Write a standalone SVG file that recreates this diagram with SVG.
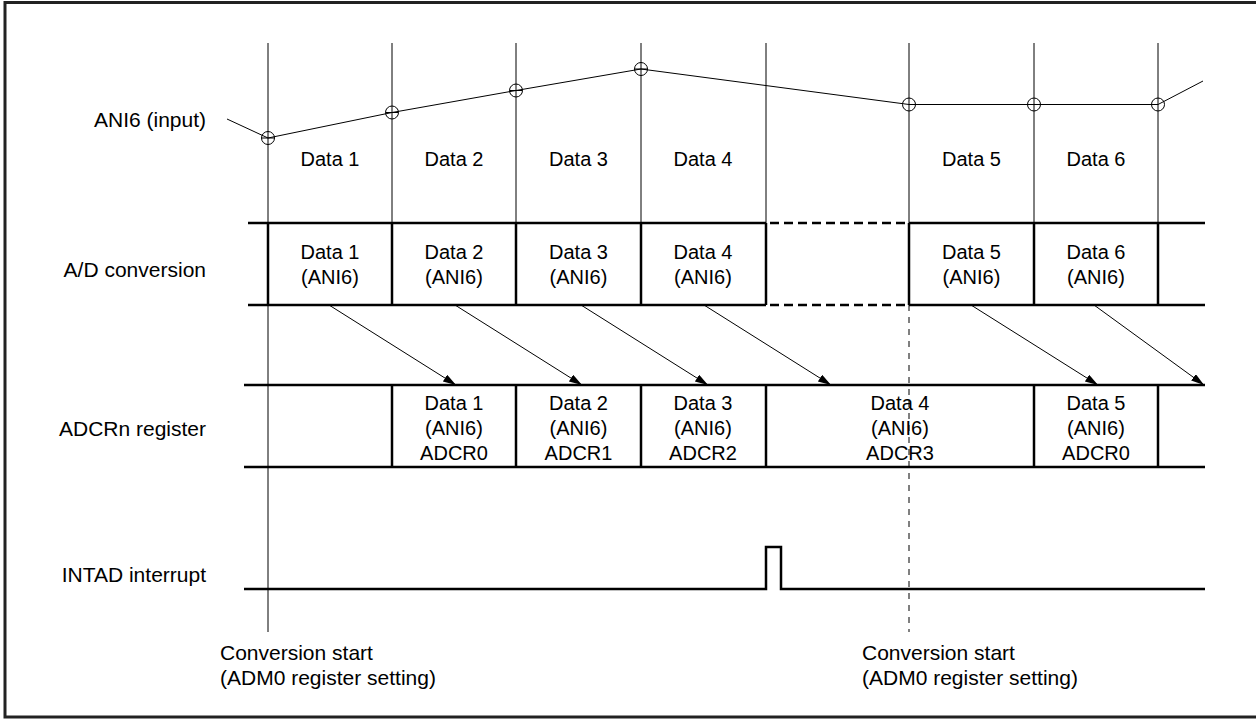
<svg xmlns="http://www.w3.org/2000/svg" width="1256" height="723" viewBox="0 0 1256 723">
<defs>
<style>
text{font-family:"Liberation Sans",Arial,Helvetica,sans-serif;fill:#000}
.lbl{font-size:21px;text-anchor:end}
.cs{font-size:21px}
.d{font-size:20px;text-anchor:middle}
.thin{stroke:#000;stroke-width:1;fill:none}
.thick{stroke:#000;stroke-width:2.5;fill:none}
.dash{stroke:#000;stroke-width:2.5;fill:none;stroke-dasharray:9 5}
.vdash{stroke:#000;stroke-width:1;fill:none;stroke-dasharray:6 6}
.pt{stroke:#000;stroke-width:1;fill:none}
.arr{stroke:#000;stroke-width:1;fill:none;marker-end:url(#ah)}
</style>
<marker id="ah" markerUnits="userSpaceOnUse" markerWidth="14" markerHeight="10" refX="13" refY="4" orient="auto">
<path d="M0,0 L13,4 L0,8 Z" fill="#000"/>
</marker>
</defs>
<rect x="0" y="0" width="1256" height="723" fill="#fff"/>
<rect id="frame" x="5" y="2.5" width="1260" height="714.5" fill="none" stroke="#222" stroke-width="3"/>

<g id="labels">
<text class="lbl" x="206" y="127">ANI6 (input)</text>
<text class="lbl" x="206" y="277">A/D conversion</text>
<text class="lbl" x="206" y="436">ADCRn register</text>
<text class="lbl" x="206" y="582">INTAD interrupt</text>
</g>

<g id="gridlines">
<line class="thin" x1="268" y1="43" x2="268" y2="632"/>
<line class="thin" x1="392" y1="43" x2="392" y2="223"/>
<line class="thin" x1="516" y1="43" x2="516" y2="223"/>
<line class="thin" x1="641" y1="43" x2="641" y2="223"/>
<line class="thin" x1="766" y1="43" x2="766" y2="223"/>
<line class="thin" x1="909" y1="43" x2="909" y2="223"/>
<line class="thin" x1="1034" y1="43" x2="1034" y2="223"/>
<line class="thin" x1="1158" y1="43" x2="1158" y2="223"/>
<line class="vdash" x1="909" y1="305" x2="909" y2="632"/>
</g>

<g id="input">
<polyline class="thin" points="227,119 268,138 392,112.5 516,90.5 641,69 909,104.5 1034,104.5 1158,104.5 1203,81"/>
<g class="pt">
<circle cx="268" cy="138" r="6.5"/><line x1="261.5" y1="138" x2="274.5" y2="138"/>
<circle cx="392" cy="112.5" r="6.5"/><line x1="385.5" y1="112.5" x2="398.5" y2="112.5"/>
<circle cx="516" cy="90.5" r="6.5"/><line x1="509.5" y1="90.5" x2="522.5" y2="90.5"/>
<circle cx="641" cy="69" r="6.5"/><line x1="634.5" y1="69" x2="647.5" y2="69"/>
<circle cx="909" cy="104.5" r="6.5"/>
<circle cx="1034" cy="104.5" r="6.5"/>
<circle cx="1158" cy="104.5" r="6.5"/>
</g>
<text class="d" x="330" y="166">Data 1</text>
<text class="d" x="454" y="166">Data 2</text>
<text class="d" x="578.5" y="166">Data 3</text>
<text class="d" x="703" y="166">Data 4</text>
<text class="d" x="971.5" y="166">Data 5</text>
<text class="d" x="1096" y="166">Data 6</text>
</g>

<g id="adconv">
<line class="thick" x1="248" y1="223" x2="766" y2="223"/>
<line class="dash" x1="770" y1="223" x2="905" y2="223"/>
<line class="thick" x1="909" y1="223" x2="1205" y2="223"/>
<line class="thick" x1="248" y1="305" x2="766" y2="305"/>
<line class="dash" x1="770" y1="305" x2="905" y2="305"/>
<line class="thick" x1="909" y1="305" x2="1205" y2="305"/>
<line class="thick" x1="268" y1="223" x2="268" y2="305"/>
<line class="thick" x1="392" y1="223" x2="392" y2="305"/>
<line class="thick" x1="516" y1="223" x2="516" y2="305"/>
<line class="thick" x1="641" y1="223" x2="641" y2="305"/>
<line class="thick" x1="766" y1="223" x2="766" y2="305"/>
<line class="thick" x1="909" y1="223" x2="909" y2="305"/>
<line class="thick" x1="1034" y1="223" x2="1034" y2="305"/>
<line class="thick" x1="1158" y1="223" x2="1158" y2="305"/>
<text class="d" x="330" y="259">Data 1</text><text class="d" x="330" y="284">(ANI6)</text>
<text class="d" x="454" y="259">Data 2</text><text class="d" x="454" y="284">(ANI6)</text>
<text class="d" x="578.5" y="259">Data 3</text><text class="d" x="578.5" y="284">(ANI6)</text>
<text class="d" x="703" y="259">Data 4</text><text class="d" x="703" y="284">(ANI6)</text>
<text class="d" x="971.5" y="259">Data 5</text><text class="d" x="971.5" y="284">(ANI6)</text>
<text class="d" x="1096" y="259">Data 6</text><text class="d" x="1096" y="284">(ANI6)</text>
</g>

<g id="adcr">
<line class="thick" x1="244" y1="385" x2="1205" y2="385"/>
<line class="thick" x1="244" y1="467" x2="1205" y2="467"/>
<line class="thick" x1="392" y1="385" x2="392" y2="467"/>
<line class="thick" x1="516" y1="385" x2="516" y2="467"/>
<line class="thick" x1="641" y1="385" x2="641" y2="467"/>
<line class="thick" x1="766" y1="385" x2="766" y2="467"/>
<line class="thick" x1="1034" y1="385" x2="1034" y2="467"/>
<line class="thick" x1="1158" y1="385" x2="1158" y2="467"/>
<text class="d" x="454" y="410">Data 1</text><text class="d" x="454" y="435">(ANI6)</text><text class="d" x="454" y="460">ADCR0</text>
<text class="d" x="578.5" y="410">Data 2</text><text class="d" x="578.5" y="435">(ANI6)</text><text class="d" x="578.5" y="460">ADCR1</text>
<text class="d" x="703" y="410">Data 3</text><text class="d" x="703" y="435">(ANI6)</text><text class="d" x="703" y="460">ADCR2</text>
<text class="d" x="900" y="410">Data 4</text><text class="d" x="900" y="435">(ANI6)</text><text class="d" x="900" y="460">ADCR3</text>
<text class="d" x="1096" y="410">Data 5</text><text class="d" x="1096" y="435">(ANI6)</text><text class="d" x="1096" y="460">ADCR0</text>
</g>

<g id="intad">
<polyline class="thick" points="244,589 766,589 766,547 781,547 781,589 1205,589"/>
</g>

<g id="connectors">
<line class="arr" x1="329" y1="305" x2="456" y2="385"/>
<line class="arr" x1="455" y1="305" x2="582" y2="385"/>
<line class="arr" x1="581" y1="305" x2="708" y2="385"/>
<line class="arr" x1="704" y1="305" x2="831" y2="385"/>
<line class="arr" x1="971" y1="305" x2="1098" y2="385"/>
<line class="arr" x1="1094" y1="305" x2="1204" y2="385"/>
</g>

<g id="notes">
<text class="cs" x="220" y="660">Conversion start</text>
<text class="cs" x="220" y="685">(ADM0 register setting)</text>
<text class="cs" x="862" y="660">Conversion start</text>
<text class="cs" x="862" y="685">(ADM0 register setting)</text>
</g>
</svg>
